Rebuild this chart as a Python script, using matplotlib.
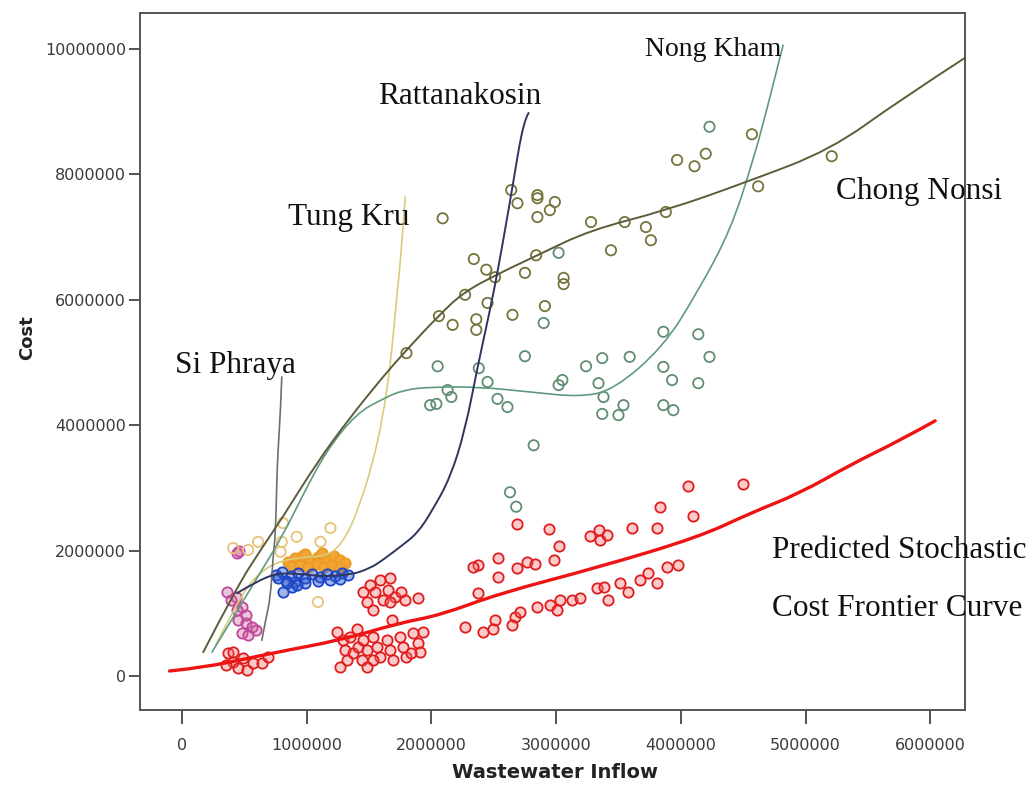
import numpy as np
import matplotlib
matplotlib.use('Agg')
import matplotlib.pyplot as plt
from matplotlib.path import Path
from matplotlib.patches import PathPatch

# values in millions (x = wastewater inflow, y = cost)
chong_x = [2.09, 2.64, 2.69, 2.85, 2.85, 2.99, 2.95, 2.85, 3.28, 3.55, 3.72, 3.76, 3.88, 3.44, 3.97,
           4.11, 4.20, 4.57, 4.62, 5.21, 2.34, 2.44, 2.51, 2.84, 2.75, 2.27, 2.45, 2.65, 2.06, 2.17,
           2.36, 2.36, 1.80, 3.06, 3.06, 2.91]
chong_y = [7.30, 7.75, 7.54, 7.67, 7.62, 7.56, 7.43, 7.32, 7.24, 7.24, 7.16, 6.95, 7.40, 6.79, 8.23,
           8.13, 8.33, 8.64, 7.81, 8.29, 6.65, 6.48, 6.36, 6.71, 6.43, 6.08, 5.95, 5.76, 5.74, 5.60,
           5.69, 5.52, 5.15, 6.35, 6.25, 5.90]

nong_x = [2.05, 2.38, 2.45, 2.53, 2.61, 2.13, 2.16, 1.99, 2.04, 2.75, 2.90, 3.02, 3.24, 3.37, 3.59,
          3.02, 3.05, 3.34, 3.38, 3.37, 3.50, 3.54, 3.86, 4.14, 4.23, 3.86, 3.93, 4.14, 3.86, 3.94,
          2.82, 2.63, 2.68, 4.23]
nong_y = [4.94, 4.91, 4.69, 4.42, 4.29, 4.56, 4.45, 4.32, 4.34, 5.10, 5.63, 6.75, 4.94, 5.07, 5.09,
          4.64, 4.72, 4.67, 4.45, 4.18, 4.16, 4.32, 5.49, 5.45, 5.09, 4.93, 4.72, 4.67, 4.32, 4.24,
          3.68, 2.93, 2.70, 8.76]

ratt_x = [0.75, 0.80, 0.87, 0.93, 0.99, 1.04, 1.11, 1.16, 1.23, 1.28, 1.33, 0.83, 0.91, 0.99, 1.09,
          1.19, 1.27, 0.81, 0.88, 0.92, 0.84, 0.77]
ratt_y = [1.61, 1.66, 1.59, 1.64, 1.56, 1.63, 1.58, 1.63, 1.59, 1.64, 1.61, 1.52, 1.50, 1.48, 1.52,
          1.53, 1.55, 1.34, 1.42, 1.45, 1.48, 1.56]

tung_dense_x = [0.85, 0.91, 0.96, 1.03, 1.09, 1.16, 1.22, 1.27, 1.31, 0.88, 0.95, 1.01, 1.08, 1.14,
                1.20, 1.27, 0.99, 1.12]
tung_dense_y = [1.82, 1.88, 1.91, 1.85, 1.90, 1.87, 1.91, 1.85, 1.80, 1.75, 1.77, 1.74, 1.79, 1.74,
                1.77, 1.72, 1.95, 1.96]
tung_x = [0.81, 1.19, 0.61, 0.80, 0.92, 1.11, 0.53, 0.79, 1.09, 0.41]
tung_y = [2.44, 2.36, 2.14, 2.14, 2.22, 2.14, 2.01, 1.98, 1.18, 2.04]

siph_x = [0.44, 0.46, 0.36, 0.43, 0.48, 0.45, 0.51, 0.56, 0.48, 0.53, 0.59, 0.44, 0.39, 0.51]
siph_y = [1.96, 1.99, 1.34, 1.26, 1.10, 0.89, 0.85, 0.78, 0.69, 0.65, 0.73, 1.05, 1.21, 0.97]

red_x = [0.37, 0.41, 0.35, 0.45, 0.52, 0.57, 0.64, 0.69, 0.49, 0.41,
         1.45, 1.51, 1.55, 1.59, 1.67, 1.65, 1.71, 1.76, 1.79, 1.61, 1.67, 1.48, 1.53, 1.68, 1.89,
         1.29, 1.35, 1.31, 1.37, 1.32, 1.41, 1.45, 1.48, 1.44, 1.53, 1.56, 1.59, 1.53, 1.64, 1.67,
         1.69, 1.75, 1.77, 1.80, 1.85, 1.89, 1.91, 1.84, 1.93, 1.27, 1.48, 1.40, 1.24,
         4.06, 4.50, 3.83, 4.10, 3.81, 3.61, 2.69, 2.94, 3.02, 2.98, 3.27, 3.34, 3.35, 3.41, 2.37,
         2.33, 2.53, 2.53, 2.77, 2.69, 2.83, 2.37, 2.27, 2.41, 2.51, 2.49, 2.67, 2.71, 2.65, 2.85,
         2.95, 3.01, 3.03, 3.13, 3.19, 3.33, 3.38, 3.42, 3.51, 3.58, 3.67, 3.74, 3.81, 3.89, 3.98]
red_y = [0.37, 0.22, 0.18, 0.13, 0.10, 0.21, 0.21, 0.30, 0.29, 0.38,
         1.34, 1.45, 1.34, 1.53, 1.56, 1.37, 1.26, 1.34, 1.21, 1.21, 1.18, 1.18, 1.05, 0.89, 1.24,
         0.57, 0.62, 0.41, 0.37, 0.26, 0.46, 0.57, 0.41, 0.26, 0.62, 0.46, 0.30, 0.26, 0.57, 0.41,
         0.26, 0.62, 0.46, 0.30, 0.69, 0.53, 0.38, 0.37, 0.70, 0.14, 0.14, 0.75, 0.70,
         3.03, 3.06, 2.70, 2.55, 2.36, 2.36, 2.42, 2.34, 2.07, 1.85, 2.23, 2.33, 2.17, 2.25, 1.77,
         1.74, 1.88, 1.58, 1.82, 1.72, 1.79, 1.32, 0.78, 0.70, 0.89, 0.75, 0.94, 1.02, 0.81, 1.10,
         1.13, 1.05, 1.21, 1.21, 1.24, 1.40, 1.42, 1.21, 1.48, 1.34, 1.53, 1.64, 1.48, 1.74, 1.77]

# fit lines
chong_fit_x = [0.17, 0.44, 0.63, 0.81, 1.08, 1.35, 1.61, 1.80, 2.05, 2.25, 2.53, 2.85, 3.27, 3.89, 4.53, 5.20, 5.76, 6.28]
chong_fit_y = [0.38, 1.42, 2.01, 2.54, 3.40, 4.13, 4.77, 5.20, 5.73, 6.11, 6.41, 6.71, 7.11, 7.43, 7.88, 8.39, 9.19, 9.86]
nong_fit_x = [0.24, 0.47, 0.64, 0.81, 0.97, 1.16, 1.40, 1.61, 1.77, 1.99, 2.39, 2.79, 3.19, 3.46, 3.86, 4.13, 4.40, 4.58, 4.68, 4.82]
nong_fit_y = [0.38, 1.13, 1.69, 2.25, 2.89, 3.60, 4.19, 4.42, 4.56, 4.61, 4.61, 4.53, 4.45, 4.56, 5.25, 6.11, 7.11, 8.23, 8.95, 10.06]
ratt_fit_x = [0.44, 0.59, 0.76, 0.95, 1.11, 1.35, 1.51, 1.61, 1.75, 1.89, 2.01, 2.15, 2.27, 2.37, 2.47, 2.53, 2.59, 2.65, 2.74, 2.78]
ratt_fit_y = [1.32, 1.50, 1.64, 1.63, 1.59, 1.61, 1.72, 1.85, 2.06, 2.28, 2.65, 3.16, 3.92, 4.93, 5.84, 6.44, 7.11, 7.80, 8.87, 8.98]
tung_fit_x = [0.27, 0.43, 0.59, 0.79, 1.03, 1.19, 1.32, 1.43, 1.53, 1.61, 1.67, 1.72, 1.76, 1.79]
tung_fit_y = [0.49, 1.13, 1.61, 1.85, 1.90, 1.93, 2.22, 2.76, 3.40, 4.13, 4.93, 6.00, 6.79, 7.64]
siph_fit_x = [0.64, 0.67, 0.71, 0.73, 0.75, 0.76, 0.77, 0.79, 0.80]
siph_fit_y = [0.57, 0.89, 1.26, 1.90, 2.28, 3.13, 3.60, 4.24, 4.77]
frontier_x = [-0.10, 0.20, 0.73, 1.27, 1.75, 2.07, 2.55, 3.35, 4.15, 4.56, 4.96, 5.36, 5.76, 6.04]
frontier_y = [0.08, 0.14, 0.37, 0.57, 0.85, 0.97, 1.32, 1.74, 2.22, 2.60, 2.92, 3.37, 3.76, 4.07]

x_ticks = [0, 1000000, 2000000, 3000000, 4000000, 5000000, 6000000]
y_ticks = [0, 2000000, 4000000, 6000000, 8000000, 10000000]

M = 1e6
W, H = 1033, 787
fig = plt.figure(figsize=(W / 100, H / 100), dpi=100)
ax = fig.add_axes([140 / W, (H - 710) / H, 825 / W, 697 / H])
ax.set_xlim(-0.337 * M, 6.279 * M)
ax.set_ylim(-0.542 * M, 10.574 * M)

def sc(xs, ys, edge, face='none', s=55, lw=1.3, z=3):
    ax.scatter(np.array(xs) * M, np.array(ys) * M, s=s, facecolors=face,
               edgecolors=edge, linewidths=lw, zorder=z)

def ln(xs, ys, color, lw=1.2, z=4):
    # smooth path: read points as quadratic control points, midpoints on the curve
    pts = np.column_stack([np.array(xs) * M, np.array(ys) * M])
    verts = [pts[0]]
    codes = [Path.MOVETO]
    for i in range(1, len(pts) - 1):
        mid = (pts[i] + pts[i + 1]) / 2
        if i == len(pts) - 2:
            mid = pts[i + 1]
        verts += [pts[i], mid]
        codes += [Path.CURVE3, Path.CURVE3]
    if len(pts) == 2:
        verts.append(pts[1])
        codes.append(Path.LINETO)
    ax.add_patch(PathPatch(Path(verts, codes), facecolor='none', edgecolor=color,
                           lw=lw, zorder=z, capstyle='round', joinstyle='round'))

sc(chong_x, chong_y, '#76733c')
sc(nong_x, nong_y, '#5f8e72')
sc(red_x, red_y, '#e01c1c', face=(0.96, 0.42, 0.42, 0.35))
sc(siph_x, siph_y, '#c0479a', face=(0.8, 0.35, 0.6, 0.35))
sc(tung_x, tung_y, '#e9c278')
sc(tung_dense_x, tung_dense_y, '#ec9a22', face='#f2a534')
sc(ratt_x, ratt_y, '#1c46c8', face=(0.2, 0.35, 0.8, 0.45))

ln(tung_fit_x, tung_fit_y, '#d9cb7a')
ln(siph_fit_x, siph_fit_y, '#6e6e6e')
ln(nong_fit_x, nong_fit_y, '#5e9a80')
ln(chong_fit_x, chong_fit_y, '#5d5c3a', lw=1.4)
ln(ratt_fit_x, ratt_fit_y, '#2e3660', lw=1.4)
ln(frontier_x, frontier_y, '#ee1414', lw=2.4, z=5)

ax.set_xticks(x_ticks)
ax.set_xticklabels([str(v) for v in x_ticks])
ax.set_yticks(y_ticks)
ax.set_yticklabels([str(v) for v in y_ticks])
ax.tick_params(axis='both', direction='out', length=8, width=1.3, color='#444444',
               labelsize=11.5, labelcolor='#3a3a3a')
ax.tick_params(axis='x', pad=10, length=10)
ax.tick_params(axis='y', pad=2)
for sp in ax.spines.values():
    sp.set_color('#555555')
    sp.set_linewidth(1.4)

fig.text(27 / W, 1 - 338 / H, 'Cost', rotation=90, ha='center', va='center',
         fontsize=13, fontweight='bold', color='#222222')
fig.text(555 / W, 1 - 773 / H, 'Wastewater Inflow', ha='center', va='center',
         fontsize=14, fontweight='bold', color='#222222',
         family=['Liberation Sans Narrow', 'DejaVu Sans'])

serif = 'Liberation Serif'
labels = [('Nong Kham', 645, 50, 20), ('Rattanakosin', 378, 97, 22.5), ('Tung Kru', 288, 217, 22.5),
          ('Si Phraya', 175, 366, 22.5), ('Chong Nonsi', 836, 191, 22.5),
          ('Predicted Stochastic', 772, 551, 22.5), ('Cost Frontier Curve', 772, 609, 22.5)]
for txt, px, py, fs in labels:
    fig.text(px / W, 1 - py / H, txt, ha='left', va='center', fontsize=fs,
             family=serif, color='#111111')

fig.savefig('out.png', dpi=100, facecolor='white')
